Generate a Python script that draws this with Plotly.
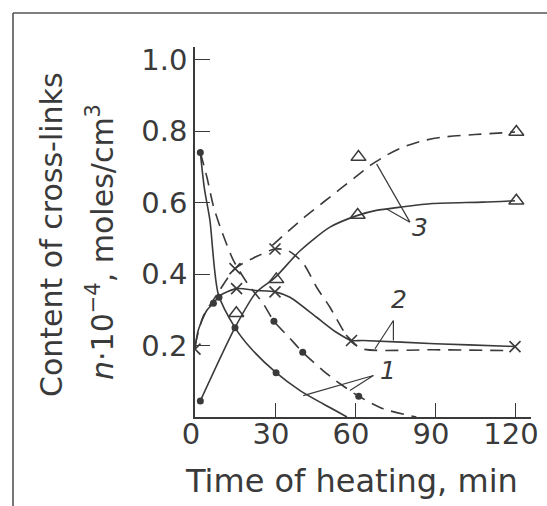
import plotly.graph_objects as go

# ---------------- data ----------------
# curve 1 (dots) - solid and dashed, decaying
c1s_t = [2, 3.5, 5.6, 8.7, 15, 20.6, 30.4, 39.4, 48, 57]
c1s_v = [0.74, 0.64, 0.55, 0.345, 0.25, 0.195, 0.124, 0.074, 0.037, 0.0]
c1d_t = [2, 4.5, 6.9, 10, 14.4, 20, 25.6, 29.6, 35.6, 40.4, 48, 54.4, 61.4, 70.6, 83]
c1d_v = [0.74, 0.67, 0.59, 0.52, 0.438, 0.37, 0.317, 0.268, 0.22, 0.181, 0.13, 0.093, 0.058, 0.023, 0.0]
dots_t = [2, 9, 15, 30.4, 29.6, 40.4, 61.4, 6.9, 2]
dots_v = [0.74, 0.335, 0.25, 0.124, 0.268, 0.181, 0.058, 0.318, 0.045]

# curve 2 (crosses) - solid and dashed
c2s_t = [0, 1.2, 4.4, 6.9, 9.4, 15.6, 23, 30, 35.6, 45.6, 53, 58.7, 63, 90, 117, 120]
c2s_v = [0.19, 0.242, 0.298, 0.318, 0.34, 0.359, 0.354, 0.35, 0.335, 0.279, 0.237, 0.214, 0.214, 0.205, 0.198, 0.197]
c2d_t = [0, 3, 8, 15, 22, 30, 35, 40.6, 45.6, 50.6, 55.6, 58.7, 63, 90, 117]
c2d_v = [0.2, 0.28, 0.34, 0.415, 0.445, 0.47, 0.465, 0.43, 0.363, 0.307, 0.242, 0.21, 0.19, 0.188, 0.186]
cross_t = [0, 15.6, 30, 15, 30, 58.7, 120]
cross_v = [0.19, 0.359, 0.35, 0.415, 0.47, 0.214, 0.197]

# curve 3 (triangles) - solid and dashed, rising
c3s_t = [2, 15, 23, 30, 39.4, 50.6, 61, 68, 77, 89, 108, 120]
c3s_v = [0.045, 0.25, 0.349, 0.39, 0.465, 0.531, 0.564, 0.578, 0.587, 0.597, 0.601, 0.605]
c3d_t = [29, 35, 42, 48, 54, 60, 66, 72, 78, 85, 93, 105, 120]
c3d_v = [0.48, 0.52, 0.565, 0.6, 0.635, 0.67, 0.705, 0.733, 0.755, 0.772, 0.783, 0.79, 0.797]
tri_t = [15.5, 30.5, 61, 120.5, 61.3, 120.5]
tri_v = [0.29, 0.385, 0.565, 0.605, 0.727, 0.797]

# leader lines for the curve numbers (data units)
lead1_t = [40.6, 66.9, 58.1]
lead1_v = [0.06, 0.116, 0.074]
lead2_t = [67.5, 74.4, 74.4]
lead2_v = [0.191, 0.27, 0.214]
lead3_t = [68.1, 80.6, 71.9]
lead3_v = [0.708, 0.545, 0.582]
num_labels = ["1", "2", "3"]
num_t = [72.4, 76.5, 84.5]
num_v = [0.13, 0.33, 0.53]

x_ticks = [0, 30, 60, 90, 120]
y_ticks = [0.2, 0.4, 0.6, 0.8, 1.0]
y_ticktext = ["0.2", "0.4", "0.6", "0.8", "1.0"]

x_title = "Time of heating, min"
y_title1 = "Content of cross-links"
y_title2 = "<i>n</i>·10<sup>−4</sup>, moles/cm<sup>3</sup>"

# ---------------- figure ----------------
W, H = 547, 506
ML, MR, MT, MB = 195, 16, 47, 89
PW, PH = W - ML - MR, H - MT - MB
INK = "#3a3a3a"
FONT = "DejaVu Sans"


def px2paper_x(px):
    return (px - ML) / PW


def px2paper_y(py):
    return (H - MB - py) / PH


fig = go.Figure()
dash = "13px,8px"
lw = 1.6
for t, v, d in [(c1s_t, c1s_v, "solid"), (c1d_t, c1d_v, dash),
                (c2s_t, c2s_v, "solid"), (c2d_t, c2d_v, dash),
                (c3s_t, c3s_v, "solid"), (c3d_t, c3d_v, dash)]:
    fig.add_trace(go.Scatter(x=t, y=v, mode="lines",
                             line=dict(color=INK, width=lw, dash=d, shape="spline", smoothing=0.7),
                             hoverinfo="skip", showlegend=False))

for t, v in [(lead1_t, lead1_v), (lead2_t, lead2_v), (lead3_t, lead3_v)]:
    fig.add_trace(go.Scatter(x=t, y=v, mode="lines", line=dict(color=INK, width=1.2),
                             hoverinfo="skip", showlegend=False))

fig.add_trace(go.Scatter(x=dots_t, y=dots_v, mode="markers",
                         marker=dict(symbol="circle", size=7, color=INK),
                         hoverinfo="skip", showlegend=False))
fig.add_trace(go.Scatter(x=cross_t, y=cross_v, mode="markers",
                         marker=dict(symbol="x-thin", size=11, color=INK, line=dict(color=INK, width=1.6)),
                         hoverinfo="skip", showlegend=False))
fig.add_trace(go.Scatter(x=tri_t, y=tri_v, mode="markers",
                         marker=dict(symbol="triangle-up-open", size=13, color=INK, line=dict(color=INK, width=1.5)),
                         hoverinfo="skip", showlegend=False))

annotations = []
for lab, t, v in zip(num_labels, num_t, num_v):
    annotations.append(dict(x=t, y=v, xref="x", yref="y", text="<i>%s</i>" % lab, showarrow=False,
                            xanchor="center", yanchor="middle",
                            font=dict(family=FONT, size=25, color=INK)))
annotations.append(dict(x=px2paper_x(351), y=px2paper_y(481), xref="paper", yref="paper",
                        xanchor="center", yanchor="middle",
                        text=x_title, showarrow=False, font=dict(family=FONT, size=32, color=INK)))
annotations.append(dict(x=px2paper_x(52), y=px2paper_y(235), xref="paper", yref="paper",
                        xanchor="center", yanchor="middle",
                        text=y_title1, textangle=-90, showarrow=False,
                        font=dict(family=FONT, size=30, color=INK)))
annotations.append(dict(x=px2paper_x(101), y=px2paper_y(242), xref="paper", yref="paper",
                        xanchor="center", yanchor="middle",
                        text=y_title2, textangle=-90, showarrow=False,
                        font=dict(family=FONT, size=30, color=INK)))

shapes = [
    dict(type="line", xref="paper", yref="paper", x0=px2paper_x(13), x1=px2paper_x(13),
         y0=px2paper_y(13), y1=px2paper_y(H + 5), line=dict(color="#555", width=1.6)),
    dict(type="line", xref="paper", yref="paper", x0=px2paper_x(13), x1=px2paper_x(W + 5),
         y0=px2paper_y(13), y1=px2paper_y(13), line=dict(color="#555", width=1.6)),
]

fig.update_layout(
    width=W, height=H, margin=dict(l=ML, r=MR, t=MT, b=MB, autoexpand=False),
    paper_bgcolor="white", plot_bgcolor="white",
    annotations=annotations, shapes=shapes, showlegend=False,
    xaxis=dict(range=[0, PW / (320 / 120)], tickvals=x_ticks, ticks="inside", ticklen=14,
               tickwidth=1.3, tickcolor=INK, showline=True, linecolor=INK, linewidth=1.6,
               showgrid=False, zeroline=False, ticklabelshift=-4, ticklabelstandoff=-10,
               tickfont=dict(family=FONT, size=29, color=INK), automargin=False),
    yaxis=dict(range=[0, PH / 357.5], tickvals=y_ticks, ticktext=y_ticktext, ticks="inside",
               ticklen=15, tickwidth=1.3, tickcolor=INK, showline=True, linecolor=INK,
               linewidth=1.6, showgrid=False, zeroline=False, ticklabelstandoff=0,
               tickfont=dict(family=FONT, size=29, color=INK), automargin=False),
)

fig.write_html("out.html")
